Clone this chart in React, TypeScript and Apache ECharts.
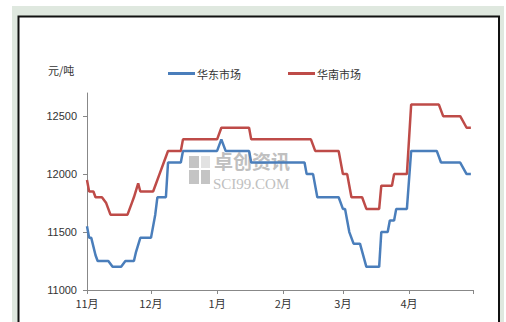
import React, { useEffect, useRef } from 'react';
import * as echarts from 'echarts';

const seriesNames = ['华东市场', '华南市场'];
const unitLabel = '元/吨';
const monthTicks = ['2013-11-01', '2013-12-01', '2014-01-01', '2014-02-01', '2014-03-01', '2014-04-01', '2014-05-01'];
const monthLabels = ['11月', '12月', '1月', '2月', '3月', '4月', ''];
const yTicks = [11000, 11500, 12000, 12500];

const eastDates = [
  '2013-11-01', '2013-11-02', '2013-11-03', '2013-11-05', '2013-11-06', '2013-11-11', '2013-11-13', '2013-11-17',
  '2013-11-19', '2013-11-23', '2013-11-24', '2013-11-26', '2013-12-01', '2013-12-03', '2013-12-04', '2013-12-08',
  '2013-12-09', '2013-12-15', '2013-12-16', '2014-01-01', '2014-01-03', '2014-01-05', '2014-01-16', '2014-01-17',
  '2014-02-11', '2014-02-12', '2014-02-15', '2014-02-17', '2014-02-27', '2014-03-01', '2014-03-02', '2014-03-03',
  '2014-03-04', '2014-03-06', '2014-03-09', '2014-03-12', '2014-03-18', '2014-03-19', '2014-03-22', '2014-03-23',
  '2014-03-25', '2014-03-26', '2014-03-31', '2014-04-02', '2014-04-14', '2014-04-16', '2014-04-25', '2014-04-28',
  '2014-04-30'
];
const eastValues = [
  11550, 11450, 11450, 11300, 11250, 11250, 11200, 11200,
  11250, 11250, 11330, 11450, 11450, 11650, 11800, 11800,
  12100, 12100, 12200, 12200, 12300, 12200, 12200, 12100,
  12100, 12000, 12000, 11800, 11800, 11700, 11700, 11600,
  11500, 11400, 11400, 11200, 11200, 11500, 11500, 11600,
  11600, 11700, 11700, 12200, 12200, 12100, 12100, 12000,
  12000
];

const southDates = [
  '2013-11-01', '2013-11-02', '2013-11-04', '2013-11-05', '2013-11-08', '2013-11-10', '2013-11-11', '2013-11-12',
  '2013-11-20', '2013-11-21', '2013-11-22', '2013-11-23', '2013-11-25', '2013-11-26', '2013-12-02', '2013-12-03',
  '2013-12-05', '2013-12-07', '2013-12-08', '2013-12-09', '2013-12-15', '2013-12-16', '2014-01-01', '2014-01-03',
  '2014-01-16', '2014-01-17', '2014-02-14', '2014-02-16', '2014-02-27', '2014-03-01', '2014-03-03', '2014-03-04',
  '2014-03-05', '2014-03-10', '2014-03-12', '2014-03-18', '2014-03-19', '2014-03-24', '2014-03-25', '2014-03-31',
  '2014-04-02', '2014-04-15', '2014-04-17', '2014-04-25', '2014-04-28', '2014-04-30'
];
const southValues = [
  11950, 11850, 11850, 11800, 11800, 11750, 11700, 11650,
  11650, 11700, 11750, 11800, 11920, 11850, 11850, 11900,
  12000, 12100, 12150, 12200, 12200, 12300, 12300, 12400,
  12400, 12300, 12300, 12200, 12200, 12000, 12000, 11900,
  11800, 11800, 11700, 11700, 11900, 11900, 12000, 12000,
  12600, 12600, 12500, 12500, 12400, 12400
];

const toTs = (s: string) => {
  const [y, m, d] = s.split('-').map(Number);
  return Date.UTC(y, m - 1, d) / 86400000;
};

export default function App() {
  const ref = useRef<HTMLDivElement>(null);
  useEffect(() => {
    if (!ref.current) return;
    const chart = echarts.init(ref.current, undefined, { renderer: 'svg' });
    const tickTs = monthTicks.map(toTs);
    const labelFor = (v: number) => {
      const i = tickTs.findIndex((t) => Math.abs(t - v) < 0.5);
      return i >= 0 ? monthLabels[i] : '';
    };
    const textColor = '#333';
    chart.setOption({
      animation: false,
      backgroundColor: '#ffffff',
      graphic: [
        { type: 'rect', z: -20, shape: { x: 12, y: 6, width: 492, height: 330 }, style: { fill: '#dfe8df' } },
        { type: 'rect', z: -19, shape: { x: 18.5, y: 16.5, width: 480.5, height: 330 }, style: { fill: '#ffffff', stroke: '#111', lineWidth: 2 } },
        { type: 'rect', z: -18, shape: { x: 189, y: 156, width: 10, height: 12 }, style: { fill: '#c4c4c4' } },
        { type: 'rect', z: -18, shape: { x: 201, y: 156, width: 9, height: 12 }, style: { fill: '#e2e2e2' } },
        { type: 'rect', z: -18, shape: { x: 189, y: 170, width: 10, height: 14 }, style: { fill: '#c4c4c4' } },
        { type: 'rect', z: -18, shape: { x: 201, y: 170, width: 9, height: 14 }, style: { fill: '#c4c4c4' } },
        {
          type: 'text', z: -18, x: 214, y: 151,
          style: { text: '卓创资讯', fill: '#c0c0c0', font: 'bold 19px "Noto Sans CJK SC"', verticalAlign: 'top' }
        },
        {
          type: 'text', z: -18, x: 213, y: 176,
          style: { text: 'SCI99.COM', fill: '#c0c0c0', font: '15px "Liberation Serif"', verticalAlign: 'top' }
        },
        { type: 'text', x: 48, y: 64, style: { text: unitLabel, fill: textColor, font: '11px "Noto Sans CJK SC"' } }
      ],
      legend: {
        top: 63,
        left: 163,
        itemWidth: 27,
        itemHeight: 3,
        itemGap: 47,
        icon: 'rect',
        textStyle: { color: textColor, fontSize: 11, fontFamily: 'Noto Sans CJK SC', padding: [0, 0, 0, -3] },
        data: seriesNames
      },
      grid: { left: 87, right: 33, top: 93, bottom: 32 },
      xAxis: {
        type: 'value',
        min: tickTs[0],
        max: tickTs[tickTs.length - 1],
        axisLine: { lineStyle: { color: '#888', width: 1 } },
        axisTick: { show: true, length: 4, customValues: tickTs, lineStyle: { color: '#888' } },
        axisLabel: {
          customValues: tickTs.slice(0, -1),
          formatter: (v: number) => labelFor(v),
          color: textColor,
          fontSize: 11,
          fontFamily: 'Noto Sans CJK SC',
          margin: 7
        },
        splitLine: { show: false }
      },
      yAxis: {
        type: 'value',
        min: 11000,
        max: 12700,
        interval: 500,
        axisLine: { show: true, lineStyle: { color: '#888', width: 1 } },
        axisTick: { show: true, length: 4, customValues: yTicks, lineStyle: { color: '#888' } },
        axisLabel: {
          customValues: yTicks,
          formatter: (v: number) => String(v),
          color: textColor,
          fontSize: 11,
          fontFamily: 'Liberation Sans',
          margin: 10
        },
        splitLine: { show: false }
      },
      series: [
        {
          name: seriesNames[0],
          type: 'line',
          symbol: 'none',
          color: '#4a7ebb',
          lineStyle: { width: 2.5, color: '#4a7ebb' },
          data: eastDates.map((d, i) => [toTs(d), eastValues[i]])
        },
        {
          name: seriesNames[1],
          type: 'line',
          symbol: 'none',
          color: '#be4b48',
          lineStyle: { width: 2.5, color: '#be4b48' },
          data: southDates.map((d, i) => [toTs(d), southValues[i]])
        }
      ]
    });
    return () => chart.dispose();
  }, []);
  return <div ref={ref} style={{ position: 'absolute', left: 0, top: 0, width: 506, height: 322 }} />;
}
